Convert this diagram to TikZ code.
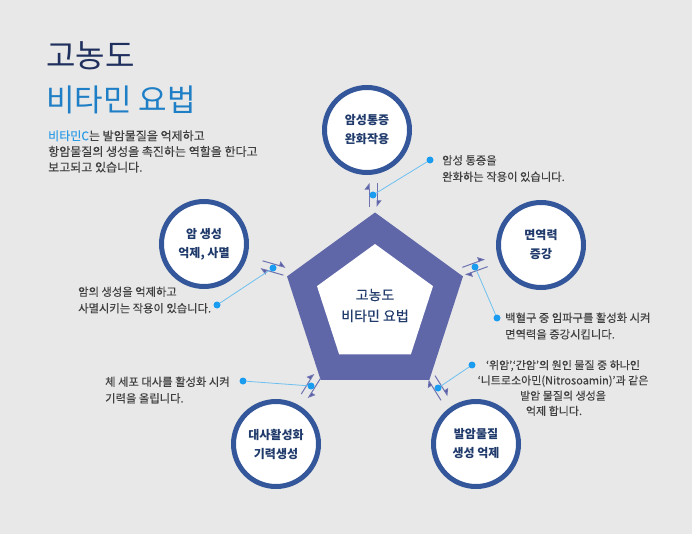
\documentclass[tikz,border=0pt]{standalone}
\usepackage{fontspec}
\setmainfont{Noto Sans CJK KR}
\newfontfamily\bodyfont[FakeBold=0.25]{Noto Sans CJK KR}
\usetikzlibrary{arrows.meta,calc}
\definecolor{bg}{HTML}{E8E8E8}
\definecolor{pentc}{HTML}{5F67A9}
\definecolor{circc}{HTML}{34569A}
\definecolor{navy}{HTML}{1F3A6B}
\definecolor{navyT}{HTML}{1F2F5E}
\definecolor{blueT}{HTML}{1F7FC6}
\definecolor{blueS}{HTML}{2B9BE6}
\definecolor{bodyc}{HTML}{404040}
\definecolor{dotc}{HTML}{1A9CF0}
\definecolor{leadc}{HTML}{6EC0F0}
\definecolor{harpc}{HTML}{6D72B0}
\definecolor{harph}{HTML}{50569F}
\tikzset{
  bub/.style={circle, draw=circc, line width=5pt, fill=white, minimum size=85pt,
    inner sep=0pt, align=center, text=navy, font=\bfseries\fontsize{12}{19}\selectfont},
  body/.style={inner sep=0pt, text=bodyc, font=\bodyfont\fontsize{11.3}{16.5}\selectfont},
  dotn/.style={circle, fill=dotc, inner sep=0pt, minimum size=7pt},
  lead/.style={draw=leadc, line width=0.8pt},
  harp/.style={draw=harpc, line width=1pt, -{Triangle[harpoon, length=6pt, width=9pt, fill=harph]}},
}
\newcommand\hpair[2]{%
  \begin{scope}[shift={(#1)}, rotate=#2]
    \draw[harp] (-12,4) -- (12,4);
    \draw[harp] (12,-4) -- (-12,-4);
  \end{scope}}
\begin{document}
\begin{tikzpicture}[x=1pt,y=1pt]
\fill[bg] (0,0) rectangle (692,-534);
\useasboundingbox (0,0) rectangle (692,-534);

% title and description
\node[anchor=west, inner sep=0pt, text=navyT, font=\fontsize{32}{32}\selectfont] (t1) at (46,-56) {고농도};
\node[anchor=west, inner sep=0pt, text=blueT, font=\fontsize{31}{31}\selectfont] (t2) at (46,-100) {비타민 요법};
\node[body, anchor=west, align=left, font=\bodyfont\fontsize{12}{15.7}\selectfont] (desc) at (48,-151.5)
  {\textcolor{blueS}{비타민C}는 발암물질을 억제하고\\항암물질의 생성을 촉진하는 역할을 한다고\\보고되고 있습니다.};

% pentagon
\coordinate (pc) at (375,-305);
\fill[pentc] (pc) +(90:92.5) -- +(162:92.5) -- +(234:92.5) -- +(306:92.5) -- +(18:92.5) -- cycle;
\fill[white] (pc) +(90:61) -- +(162:61) -- +(234:61) -- +(306:61) -- +(18:61) -- cycle;
\node[align=center, inner sep=0pt, text=navy, font=\bodyfont\fontsize{14}{21}\selectfont] (core) at (375,-305.5) {고농도\\비타민 요법};

% circles
\node[bub] (cT) at (367,-130) {암성통증\\완화작용};
\node[bub] (cL) at (204,-244) {암 생성\\억제, 사멸};
\node[bub] (cR) at (541,-245) {면역력\\증강};
\node[bub] (cBL) at (276,-444) {대사활성화\\기력생성};
\node[bub] (cBR) at (476,-444) {발암물질\\생성 억제};

% harpoon pairs
\coordinate (hT) at (373,-195);
\coordinate (hL) at (273,-268);
\coordinate (hR) at (475,-267);
\coordinate (hBL) at (311,-386);
\coordinate (hBR) at (438,-388);
\hpair{hT}{90}
\hpair{hL}{164}
\hpair{hR}{20}
\hpair{hBL}{238}
\hpair{hBR}{302}

% texts
\node[body, anchor=west, align=left] (tT) at (442,-168.5) {암성 통증을\\완화하는 작용이 있습니다.};
\node[body, anchor=west, align=left] (tL) at (78,-300) {암의 생성을 억제하고\\사멸시키는 작용이 있습니다.};
\node[body, anchor=west, align=left] (tR) at (505,-326) {백혈구 중 임파구를 활성화 시켜\\면역력을 증강시킵니다.};
\node[body, anchor=west, align=left] (tBL) at (105,-390) {체 세포 대사를 활성화 시켜\\기력을 올립니다.};
\node[body, align=center, font=\bodyfont\fontsize{11}{15.3}\selectfont] (tBR) at (563,-388)
  {‘위암’,‘간암’의 원인 물질 중 하나인\\‘니트로소아민(Nitrosoamin)’과 같은\\발암 물질의 생성을\\억제 합니다.\hspace*{18pt}};

% dots and leaders
\node[dotn] (dT1) at (hT) {};
\node[dotn] (dT2) at (430,-160) {};
\node[dotn] (dL1) at (hL) {};
\node[dotn] (dL2) at (217,-305) {};
\node[dotn] (dR1) at (hR) {};
\node[dotn] (dR2) at (497,-318) {};
\node[dotn] (dBL1) at (hBL) {};
\node[dotn] (dBL2) at (243,-381) {};
\node[dotn] (dBR1) at (hBR) {};
\node[dotn] (dBR2) at (472,-365) {};
\draw[lead] (dT1) -- (dT2);
\draw[lead] (dL1) -- (dL2);
\draw[lead] (dR1) -- (dR2);
\draw[lead] (dBL1) -- (dBL2);
\draw[lead] (dBR1) -- (dBR2);
\end{tikzpicture}
\end{document}
